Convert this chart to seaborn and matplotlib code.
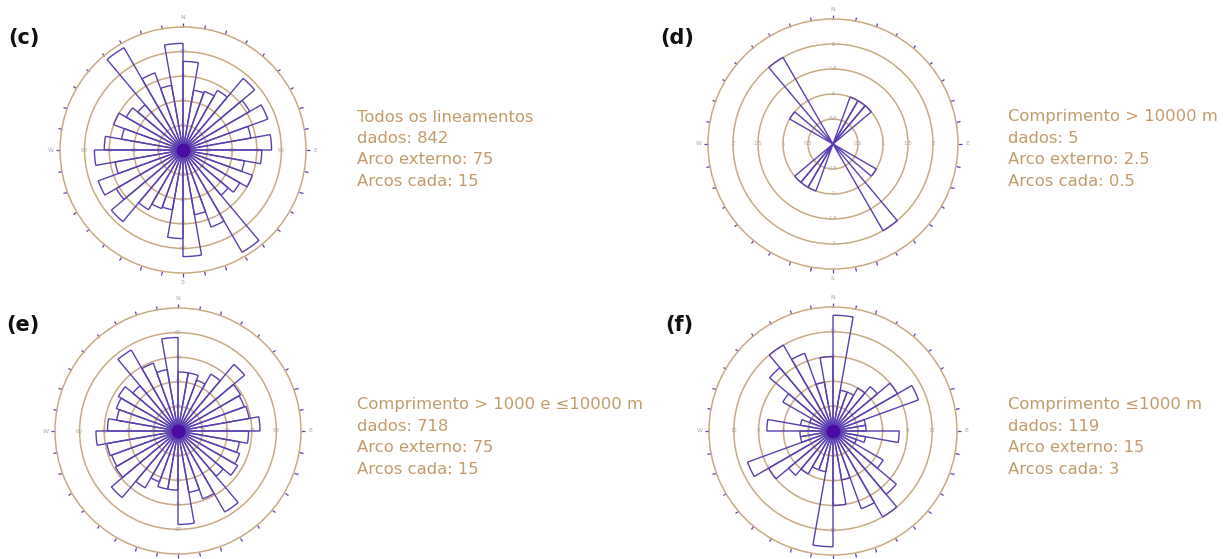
import numpy as np
import matplotlib
matplotlib.use("Agg")
import matplotlib.pyplot as plt
import seaborn as sns

sns.set_theme(style="white")
plt.rcParams['font.family'] = ['DejaVu Sans']

# Azimuth classes (degrees, start of each 10-degree class); mirrored by 180
bin_starts = np.arange(0, 180, 10)

counts_c = [54, 37, 38, 42, 57, 47, 55, 42, 54, 48, 38, 45, 40, 36, 72, 50, 40, 65]
counts_d = [0, 0, 1, 1, 1, 0, 0, 0, 0, 0, 0, 0, 1, 0, 2, 0, 0, 0]
counts_e = [36, 36, 33, 40, 53, 44, 43, 44, 50, 43, 38, 40, 42, 36, 57, 44, 38, 57]
counts_f = [14, 5, 5, 6, 7, 9, 11, 4, 4, 8, 4, 3, 7, 10, 12, 10, 6, 9]

panel_tags = ["(c)", "(d)", "(e)", "(f)"]
info_c = ["Todos os lineamentos", "dados: 842", "Arco externo: 75", "Arcos cada: 15"]
info_d = ["Comprimento > 10000 m", "dados: 5", "Arco externo: 2.5", "Arcos cada: 0.5"]
info_e = ["Comprimento > 1000 e \u226410000 m", "dados: 718", "Arco externo: 75", "Arcos cada: 15"]
info_f = ["Comprimento \u22641000 m", "dados: 119", "Arco externo: 15", "Arcos cada: 3"]
outer_arcs = [75, 2.5, 75, 15]
arc_steps = [15, 0.5, 15, 3]

PURPLE = "#5b3fae"
BLOB = "#4a0ca3"
TAN = "#c8ab84"
TEXT = "#c49a6c"
GREY = "#a8a8a8"

W, H = 1223, 559
fig = plt.figure(figsize=(W / 100, H / 100), dpi=100)
fig.patch.set_facecolor("white")


def fmt(v):
    return f"{v:g}"


def rose(center, radius, counts, rmax, step, blob, show_south):
    cx, cy = center
    ax = fig.add_axes([(cx - radius) / W, 1 - (cy + radius) / H,
                       2 * radius / W, 2 * radius / H], projection="polar")
    ax.set_facecolor("none")
    ax.set_theta_zero_location("N")
    ax.set_theta_direction(-1)

    theta = np.deg2rad(np.concatenate([bin_starts, bin_starts + 180]))
    vals = np.concatenate([counts, counts])
    keep = vals > 0
    ax.bar(theta[keep], vals[keep], width=np.deg2rad(10), align="edge",
           facecolor="none", edgecolor=PURPLE, linewidth=1.0, zorder=3)

    ax.set_ylim(0, rmax)
    rings = np.arange(step, rmax + step / 2, step)
    ax.set_yticks(rings[:-1])
    ax.set_yticklabels([])
    ax.yaxis.grid(True, color=TAN, linewidth=1.1)
    ax.xaxis.grid(False)
    ax.spines["polar"].set_color(TAN)
    ax.spines["polar"].set_linewidth(1.1)

    ticks = np.arange(0, 360, 10)
    ax.set_xticks(np.deg2rad(ticks))
    cardinal = {0: "N", 90: "E", 270: "W"}
    if show_south:
        cardinal[180] = "S"
    ax.set_xticklabels([cardinal.get(int(t), "") for t in ticks])
    ax.tick_params(axis="x", which="major", top=True, bottom=False,
                   direction="out", length=2.8, width=0.9, color=PURPLE,
                   labelsize=4.5, labelcolor=GREY, pad=-3)

    # ring values along the four cardinal directions
    for ang in (0, 90, 180, 270):
        for r in rings[:-1]:
            ax.text(np.deg2rad(ang), r, fmt(r), ha="center", va="center",
                    fontsize=4, color=GREY, zorder=1)

    if blob:
        ax.scatter([0], [0], s=100, color=BLOB, zorder=4, linewidths=0)
    return ax


centers = [(183, 150), (833, 144), (178, 431), (833, 431)]
radii = [123, 125, 123, 124]
all_counts = [counts_c, counts_d, counts_e, counts_f]
blobs = [True, False, True, True]
souths = [True, True, False, False]
for c, rad, cnt, rm, st, bl, so in zip(centers, radii, all_counts, outer_arcs,
                                        arc_steps, blobs, souths):
    rose(c, rad, np.array(cnt, dtype=float), rm, st, bl, so)

# panel tags
tag_pos = [(24, 38), (677, 38), (23, 325), (679, 325)]
for tag, (x, y) in zip(panel_tags, tag_pos):
    fig.text(x / W, 1 - y / H, tag, ha="center", va="center",
             fontsize=15, fontweight="bold", color="#111111")

# description blocks
info_pos = [(357, 117), (1008, 117), (357, 405), (1008, 405)]
for lines, (x, y) in zip([info_c, info_d, info_e, info_f], info_pos):
    for i, line in enumerate(lines):
        fig.text(x / W, 1 - (y + i * 21.4) / H, line, ha="left", va="center",
                 fontsize=11.8, color=TEXT)

fig.savefig("out.png", dpi=100, facecolor="white")
